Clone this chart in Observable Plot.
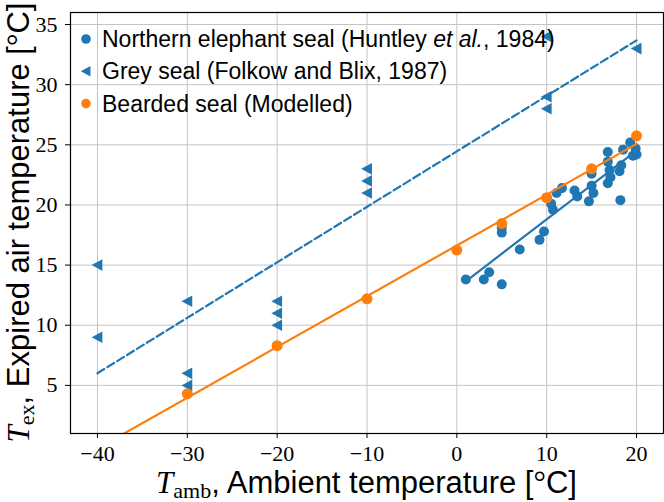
<!DOCTYPE html>
<html><head><meta charset="utf-8">
<script src="https://cdn.jsdelivr.net/npm/d3@7"></script>
<script src="https://cdn.jsdelivr.net/npm/@observablehq/plot@0.6"></script>
<style>body{margin:0;background:#fff} svg{display:block}</style>
</head><body><div id="chart"></div>
<script>
// Northern elephant seal (Huntley et al., 1984)
const elephantX = [1.0, 3.0, 3.6, 5.0, 5.0, 5.0, 7.0, 9.2, 9.7, 10.5, 10.7, 11.1, 11.7, 13.1, 13.4, 14.7, 15.0, 15.0, 15.2, 16.8, 16.8, 17.0, 17.1, 16.8, 18.2, 18.1, 18.3, 18.5, 19.3, 19.6, 19.9, 20.0];
const elephantY = [13.8, 13.8, 14.4, 13.4, 18.1, 17.7, 16.3, 17.1, 17.8, 20.1, 19.6, 21.0, 21.4, 21.2, 20.7, 20.3, 22.6, 21.6, 21.0, 24.4, 23.6, 22.9, 22.3, 21.8, 20.4, 22.8, 23.3, 24.6, 25.2, 24.1, 24.7, 24.2];
// Grey seal (Folkow and Blix, 1987)
const greyX = [-40, -40, -30, -30, -30, -20, -20, -20, -10, -10, -10, 10, 10, 10, 20];
const greyY = [15, 9, 12, 6, 5, 12, 11, 10, 23, 22, 21, 34, 29, 28, 33];
// Bearded seal (Modelled)
const beardedX = [-30, -20, -10, 0, 5, 10, 15, 20];
const beardedY = [4.3, 8.3, 12.2, 16.25, 18.45, 20.6, 23.0, 25.75];

const xTicks = [-40, -30, -20, -10, 0, 10, 20];
const yTicks = [5, 10, 15, 20, 25, 30, 35];
const xDomain = [-43, 23];
const yDomain = [1, 36];

const blue = "#1f77b4", orange = "#ff7f0e";

function fit(xs, ys) {
  const mx = d3.mean(xs), my = d3.mean(ys);
  let sxy = 0, sxx = 0;
  xs.forEach((x, i) => { sxy += (x - mx) * (ys[i] - my); sxx += (x - mx) ** 2; });
  const b = sxy / sxx;
  return x => my + b * (x - mx);
}
function fitLine(xs, ys, ext) {
  const f = fit(xs, ys);
  return ext.map(x => ({x, y: f(x)}));
}
const allX = [...elephantX, ...greyX, ...beardedX];
const elephantLine = fitLine(elephantX, elephantY, d3.extent(elephantX));
const greyLine = fitLine(greyX, greyY, d3.extent(greyX));
const beardedLine = fitLine(beardedX, beardedY, d3.extent(allX));

const triLeft = {
  draw(ctx, size) {
    const r = Math.sqrt(size / Math.PI);
    ctx.moveTo(-r, 0);
    ctx.lineTo(r * 0.85, -r);
    ctx.lineTo(r * 0.85, r);
    ctx.closePath();
  }
};

const pts = (xs, ys) => xs.map((x, i) => ({x, y: ys[i]}));
const minusFmt = d => d < 0 ? "\u2212" + Math.abs(d) : String(d);

const plot = Plot.plot({
  width: 664, height: 502,
  marginLeft: 70, marginRight: 1, marginTop: 12, marginBottom: 69,
  style: {fontFamily: "'Liberation Serif', serif", fontSize: "22px", background: "white", color: "black"},
  x: {domain: xDomain},
  y: {domain: yDomain},
  marks: [
    Plot.gridX(xTicks, {stroke: "#c4c4c4", strokeOpacity: 1, strokeWidth: 1}),
    Plot.gridY(yTicks, {stroke: "#c4c4c4", strokeOpacity: 1, strokeWidth: 1}),
    Plot.axisX(xTicks, {tickSize: 5, tickPadding: 7, tickFormat: minusFmt, label: null, fontSize: 22}),
    Plot.axisY(yTicks, {tickSize: 5, tickPadding: 8, tickFormat: minusFmt, label: null, fontSize: 22}),
    Plot.dot(pts(elephantX, elephantY), {x: "x", y: "y", r: 5, fill: blue, stroke: "none"}),
    Plot.dot(pts(greyX, greyY), {x: "x", y: "y", r: 5.8, symbol: triLeft, fill: blue, stroke: "none"}),
    Plot.line(greyLine, {x: "x", y: "y", stroke: blue, strokeWidth: 2.2, strokeDasharray: "8,3.6", clip: true}),
    Plot.line(elephantLine, {x: "x", y: "y", stroke: blue, strokeWidth: 2.2, clip: true}),
    Plot.line(beardedLine, {x: "x", y: "y", stroke: orange, strokeWidth: 2.2, clip: true}),
    Plot.dot(pts(beardedX, beardedY), {x: "x", y: "y", r: 5.5, fill: orange, stroke: "none"}),
    Plot.frame({stroke: "black", strokeWidth: 1.2})
  ]
});
document.getElementById("chart").appendChild(plot);

const svg = d3.select(plot);
const sans = "'Liberation Sans', Arial, sans-serif";
const serif = "'Liberation Serif', serif";

// Legend
const legend = [
  {label: ["Northern elephant seal (Huntley ", "et al.", ", 1984)"], color: blue, sym: d3.symbolCircle},
  {label: ["Grey seal (Folkow and Blix, 1987)"], color: blue, sym: triLeft},
  {label: ["Bearded seal (Modelled)"], color: orange, sym: d3.symbolCircle}
];
const lg = svg.append("g").attr("font-family", sans).attr("font-size", 23).attr("text-anchor", "start");
legend.forEach((e, i) => {
  const cy = 39 + i * 32.3;
  lg.append("path").attr("transform", `translate(86,${cy})`)
    .attr("d", d3.symbol(e.sym, Math.PI * (e.sym === triLeft ? 5.2 : 4.8) ** 2)())
    .attr("fill", e.color);
  const t = lg.append("text").attr("x", 102).attr("y", cy + 8).attr("fill", "black").attr("text-anchor", "start");
  e.label.forEach((s, j) => {
    const ts = t.append("tspan").text(s);
    if (j === 1) ts.attr("font-style", "italic");
  });
});

// X label
const xl = svg.append("text").attr("x", 366.5).attr("y", 493).attr("text-anchor", "middle")
  .attr("font-size", 31).attr("fill", "black").attr("font-family", sans);
xl.append("tspan").attr("font-family", serif).attr("font-style", "italic").text("T");
xl.append("tspan").attr("font-family", serif).attr("font-size", 22).attr("dy", 5).text("amb");
xl.append("tspan").attr("dy", -5).text(", Ambient temperature [");
xl.append("tspan").attr("font-family", serif).text("°");
xl.append("tspan").text("C]");

// Y label
const yl = svg.append("text").attr("transform", "translate(29,222.5) rotate(-90)").attr("text-anchor", "middle")
  .attr("font-size", 31).attr("fill", "black").attr("font-family", sans);
yl.append("tspan").attr("font-family", serif).attr("font-style", "italic").text("T");
yl.append("tspan").attr("font-family", serif).attr("font-size", 22).attr("dy", 5).text("ex");
yl.append("tspan").attr("dy", -5).text(", Expired air temperature [");
yl.append("tspan").attr("font-family", serif).text("°");
yl.append("tspan").text("C]");
</script>
</body></html>
